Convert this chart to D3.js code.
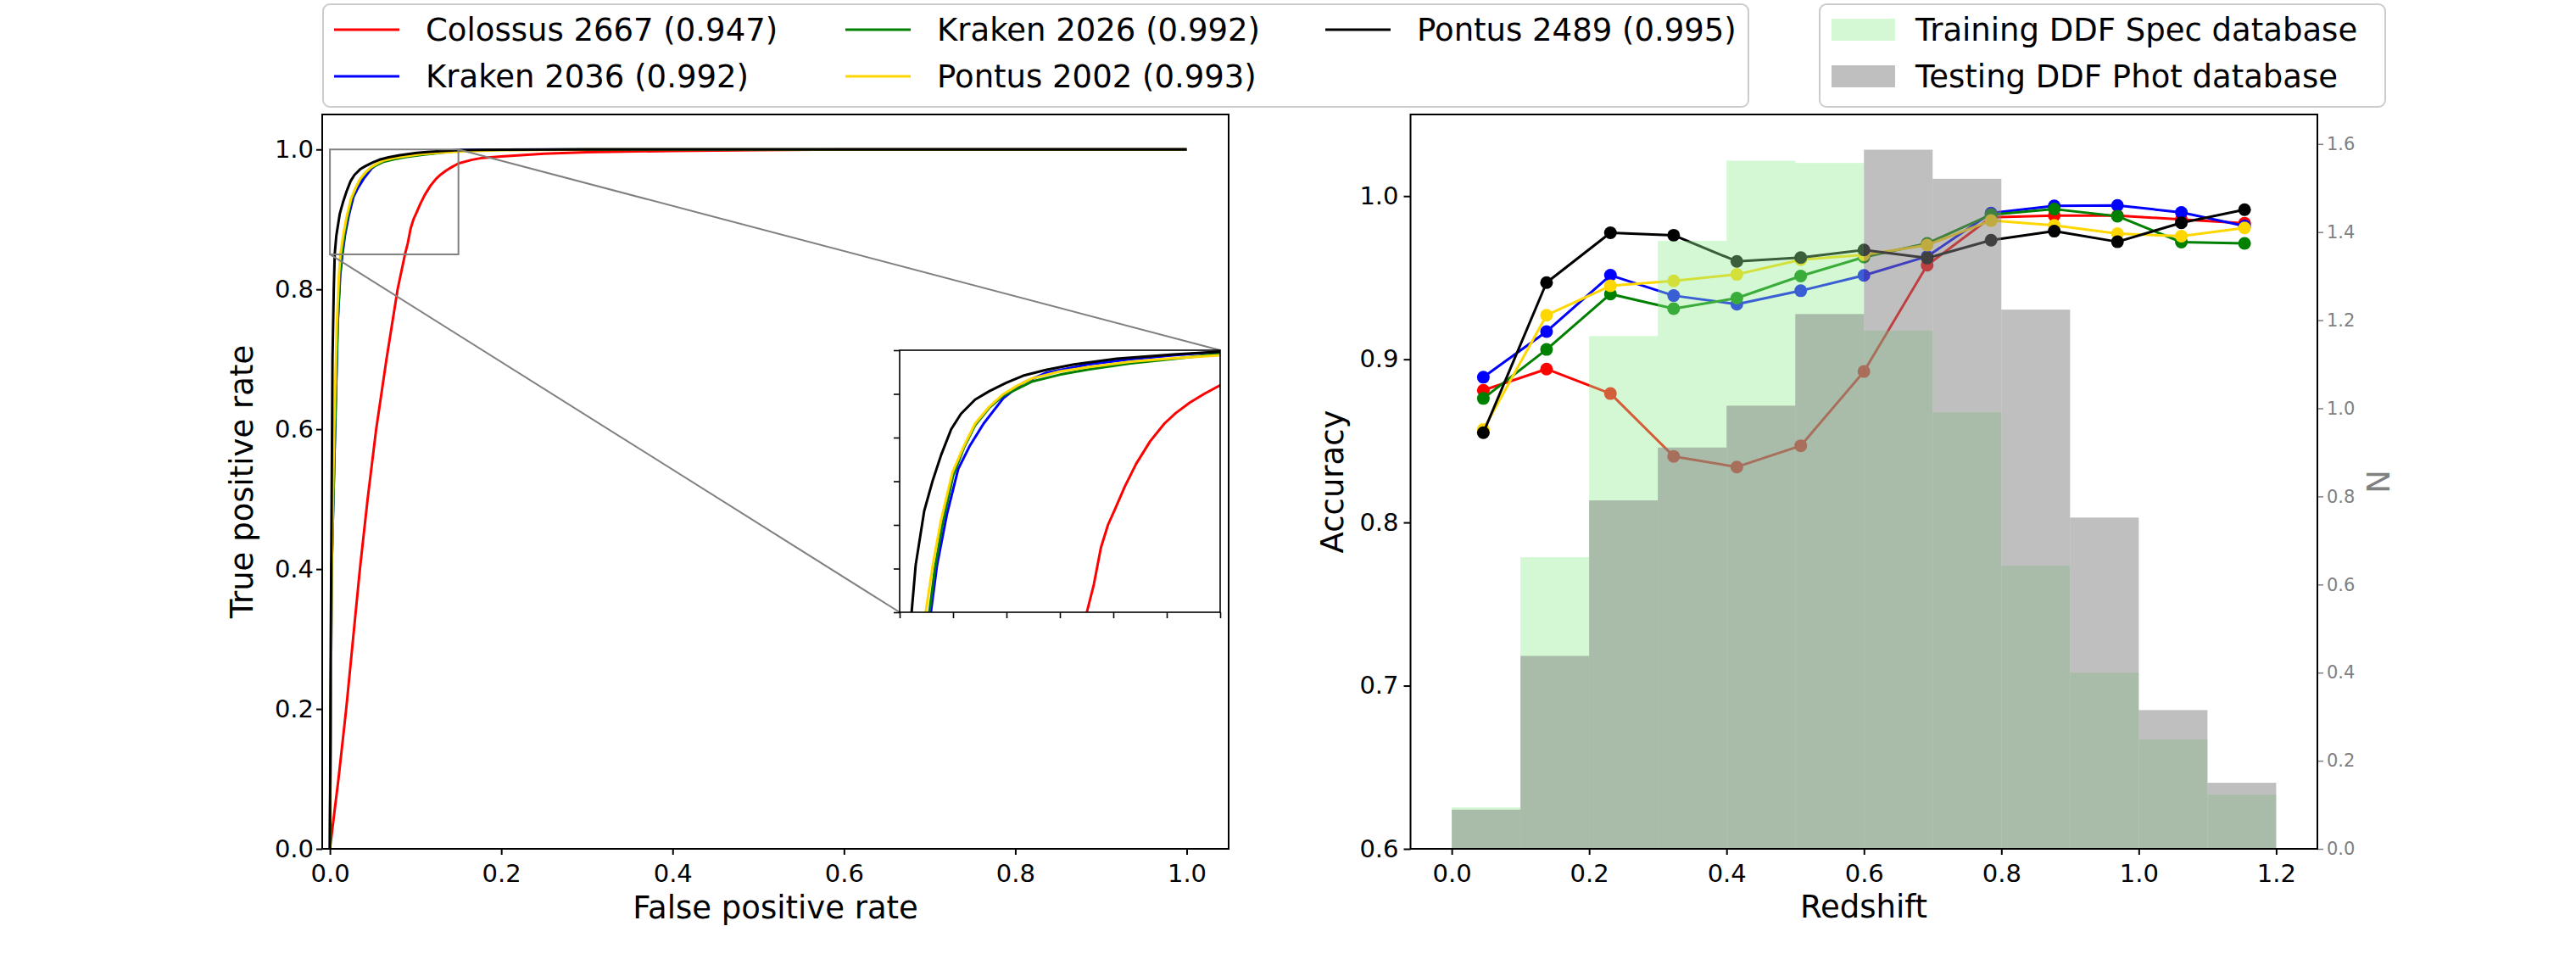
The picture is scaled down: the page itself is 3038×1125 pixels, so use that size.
<!DOCTYPE html>
<html><head><meta charset="utf-8">
<script src="https://cdn.jsdelivr.net/npm/d3@7"></script>
<style>
html,body{margin:0;padding:0;background:#fff;}
svg text{font-family:"DejaVu Sans",sans-serif;}
</style></head>
<body>
<svg id="chart" width="3038" height="1125"></svg>
<script>
// ---------- DATA ----------
const seriesNames = ["Colossus 2667 (0.947)","Kraken 2036 (0.992)","Kraken 2026 (0.992)","Pontus 2002 (0.993)","Pontus 2489 (0.995)"];
const seriesColors = ["#ff0000","#0000ff","#008000","#ffd700","#000000"];

// ROC curves: [false positive rate, true positive rate]
const rocColossus = [[0,0],[0.005,0.05],[0.010,0.1],[0.019,0.2],[0.027,0.3],[0.035,0.4],[0.044,0.5],[0.054,0.6],[0.066,0.7],[0.079,0.8],[0.0876,0.85],[0.0909,0.866],[0.0942,0.887],[0.0975,0.900],[0.1008,0.909],[0.1054,0.922],[0.1107,0.935],[0.1173,0.948],[0.1239,0.958],[0.1292,0.964],[0.1358,0.970],[0.1425,0.975],[0.15,0.980],[0.165,0.985],[0.178,0.988],[0.2,0.990],[0.25,0.994],[0.3,0.996],[0.4,0.998],[0.5,0.999],[0.6,1.0],[1.0,1.0]];
const rocKraken2036 = [[0,0],[0.002,0.4],[0.006,0.6],[0.009,0.75],[0.012,0.82],[0.0146,0.85],[0.0175,0.877],[0.0221,0.906],[0.0274,0.932],[0.0327,0.945],[0.0393,0.958],[0.0485,0.9725],[0.0578,0.9814],[0.0684,0.987],[0.0882,0.9919],[0.108,0.9948],[0.1279,0.9971],[0.15,0.9992],[0.2,0.9998],[0.3,1.0],[1.0,1.0]];
const rocKraken2026 = [[0,0],[0.002,0.4],[0.006,0.6],[0.009,0.75],[0.0115,0.82],[0.0139,0.85],[0.0165,0.875],[0.0200,0.90],[0.0250,0.928],[0.0300,0.944],[0.0353,0.957],[0.0419,0.967],[0.0485,0.974],[0.0552,0.978],[0.0618,0.982],[0.075,0.986],[0.0882,0.989],[0.108,0.9925],[0.128,0.995],[0.15,0.998],[0.2,0.9995],[0.3,1.0],[1.0,1.0]];
const rocPontus2002 = [[0,0],[0.002,0.4],[0.005,0.6],[0.008,0.75],[0.0105,0.82],[0.0122,0.85],[0.0155,0.877],[0.0194,0.903],[0.0247,0.930],[0.0300,0.945],[0.0353,0.958],[0.0419,0.9676],[0.0485,0.9749],[0.0552,0.9798],[0.0618,0.9838],[0.075,0.9879],[0.0882,0.9903],[0.1081,0.9935],[0.1279,0.9954],[0.15,0.9971],[0.2,0.9992],[0.3,1.0],[1.0,1.0]];
const rocPontus2489 = [[0,0],[0.001,0.3],[0.002,0.5],[0.003,0.7],[0.0045,0.8],[0.0056,0.85],[0.0075,0.877],[0.0115,0.908],[0.0155,0.9255],[0.0194,0.940],[0.0241,0.9547],[0.0287,0.9636],[0.0353,0.9717],[0.0419,0.9765],[0.0499,0.9814],[0.0578,0.9854],[0.0684,0.9887],[0.0816,0.9919],[0.1015,0.9951],[0.1279,0.9976],[0.15,0.9992],[0.2,0.9998],[0.3,1.0],[1.0,1.0]];
const rocCurves = [rocColossus, rocKraken2036, rocKraken2026, rocPontus2002, rocPontus2489];

// Accuracy vs redshift
const redshiftCenters = [0.046,0.138,0.231,0.323,0.415,0.508,0.600,0.692,0.785,0.877,0.969,1.062,1.154];
const accColossus   = [0.881,0.894,0.879,0.8405,0.834,0.847,0.8925,0.9576,0.987,0.988,0.988,0.9857,0.9834];
const accKraken2036 = [0.889,0.917,0.9515,0.939,0.9337,0.942,0.9514,0.963,0.9896,0.994,0.9943,0.990,0.9817];
const accKraken2026 = [0.876,0.906,0.940,0.931,0.9375,0.951,0.9626,0.971,0.9886,0.992,0.9877,0.9718,0.971];
const accPontus2002 = [0.857,0.927,0.945,0.948,0.952,0.961,0.964,0.970,0.985,0.982,0.977,0.9754,0.9805];
const accPontus2489 = [0.855,0.947,0.9775,0.976,0.960,0.9623,0.967,0.962,0.973,0.9785,0.972,0.9836,0.9917];
const accSeries = [accColossus, accKraken2036, accKraken2026, accPontus2002, accPontus2489];

// Histograms (density)
const histEdges = [0.0,0.1,0.2,0.3,0.4,0.5,0.6,0.7,0.8,0.9,1.0,1.1,1.2];
const histTraining = [0.094,0.662,1.164,1.380,1.562,1.557,1.176,0.991,0.643,0.400,0.248,0.123];
const histTesting  = [0.089,0.438,0.791,0.911,1.006,1.214,1.587,1.521,1.224,0.752,0.315,0.150];
const histNames = ["Training DDF Spec database","Testing DDF Phot database"];

const rocXTicks = [0,0.2,0.4,0.6,0.8,1.0];
const rocYTicks = [0,0.2,0.4,0.6,0.8,1.0];
const insetTicks = [0.85,0.875,0.9,0.925,0.95,0.975,1.0];
const insetXTicks = [0,0.025,0.05,0.075,0.1,0.125,0.15];
const zXTicks = [0,0.2,0.4,0.6,0.8,1.0,1.2];
const accYTicks = [0.6,0.7,0.8,0.9,1.0];
const nTicks = [0,0.2,0.4,0.6,0.8,1.0,1.2,1.4,1.6];

// ---------- DRAW ----------
const svg = d3.select("#chart");
const fmt1 = d3.format(".1f");

// Left axes
const xL = d3.scaleLinear().domain([-0.009,1.049]).range([380,1449]);
const yL = d3.scaleLinear().domain([0,1.05]).range([1001,135]);
const line = (xs, ys) => d3.line().x(d=>xs(d[0])).y(d=>ys(d[1]));

svg.append("clipPath").attr("id","clipL").append("rect")
  .attr("x",380).attr("y",135).attr("width",1069).attr("height",866);
const gL = svg.append("g").attr("clip-path","url(#clipL)");
rocCurves.forEach((c,i)=>{
  gL.append("path").attr("d", line(xL,yL)(c)).attr("fill","none")
    .attr("stroke",seriesColors[i]).attr("stroke-width",3).attr("stroke-linejoin","round");
});

// zoom rectangle + connectors
const xI = d3.scaleLinear().domain([0,0.15]).range([1061,1439]);
const yI = d3.scaleLinear().domain([0.85,1.0]).range([722,413]);
svg.append("rect").attr("x",xL(0)).attr("y",yL(1.0)).attr("width",xL(0.15)-xL(0)).attr("height",yL(0.85)-yL(1.0))
  .attr("fill","none").attr("stroke","#808080").attr("stroke-width",2);
svg.append("line").attr("x1",xL(0.15)).attr("y1",yL(1.0)).attr("x2",xI(0.15)).attr("y2",yI(1.0))
  .attr("stroke","#808080").attr("stroke-width",2);
svg.append("line").attr("x1",xL(0)).attr("y1",yL(0.85)).attr("x2",xI(0)).attr("y2",yI(0.85))
  .attr("stroke","#808080").attr("stroke-width",2);

// inset
svg.append("rect").attr("x",1061).attr("y",413).attr("width",378).attr("height",309).attr("fill","#fff");
svg.append("clipPath").attr("id","clipI").append("rect")
  .attr("x",1061).attr("y",413).attr("width",378).attr("height",309);
const gI = svg.append("g").attr("clip-path","url(#clipI)");
rocCurves.forEach((c,i)=>{
  gI.append("path").attr("d", line(xI,yI)(c)).attr("fill","none")
    .attr("stroke",seriesColors[i]).attr("stroke-width",3).attr("stroke-linejoin","round");
});
const axIX = svg.append("g").attr("transform","translate(0,722)")
  .call(d3.axisBottom(xI).tickValues(insetXTicks).tickSize(7).tickFormat(""));
const axIY = svg.append("g").attr("transform","translate(1061,0)")
  .call(d3.axisLeft(yI).tickValues(insetTicks).tickSize(7).tickFormat(""));
[axIX,axIY].forEach(a=>{a.select(".domain").remove(); a.selectAll("line").attr("stroke","#000").attr("stroke-width",1.6);});
svg.append("rect").attr("x",1061).attr("y",413).attr("width",378).attr("height",309)
  .attr("fill","none").attr("stroke","#000").attr("stroke-width",1.6);

// left axes ticks
function styleAxis(g, size, color){
  g.select(".domain").remove();
  g.selectAll("line").attr("stroke",color).attr("stroke-width",2);
  g.selectAll("text").attr("fill",color).style("font-size",size+"px").style("font-family","DejaVu Sans");
}
const axLX = svg.append("g").attr("transform","translate(0,1001)")
  .call(d3.axisBottom(xL).tickValues(rocXTicks).tickSize(7).tickPadding(11).tickFormat(fmt1));
styleAxis(axLX,29,"#000");
const axLY = svg.append("g").attr("transform","translate(380,0)")
  .call(d3.axisLeft(yL).tickValues(rocYTicks).tickSize(7).tickPadding(3).tickFormat(fmt1));
styleAxis(axLY,29,"#000");
svg.append("rect").attr("x",380).attr("y",135).attr("width",1069).attr("height",866)
  .attr("fill","none").attr("stroke","#000").attr("stroke-width",2);

svg.append("text").attr("x",914.5).attr("y",1083).attr("text-anchor","middle")
  .style("font-size","37px").text("False positive rate");
svg.append("text").attr("transform","translate(298,568) rotate(-90)").attr("text-anchor","middle")
  .style("font-size","37px").text("True positive rate");

// Right axes
const xR = d3.scaleLinear().domain([-0.06,1.26]).range([1663.5,2733]);
const yR = d3.scaleLinear().domain([0.6,1.05]).range([1001,135]);
const yN = d3.scaleLinear().domain([0,1.667]).range([1001,135]);

svg.append("clipPath").attr("id","clipR").append("rect")
  .attr("x",1663.5).attr("y",135).attr("width",1069.5).attr("height",866);
const gR = svg.append("g").attr("clip-path","url(#clipR)");
accSeries.forEach((s,i)=>{
  const pts = s.map((v,k)=>[redshiftCenters[k],v]);
  gR.append("path").attr("d", line(xR,yR)(pts)).attr("fill","none")
    .attr("stroke",seriesColors[i]).attr("stroke-width",3).attr("stroke-linejoin","round");
  gR.selectAll(null).data(pts).enter().append("circle")
    .attr("cx",d=>xR(d[0])).attr("cy",d=>yR(d[1])).attr("r",7.5).attr("fill",seriesColors[i]);
});
// histograms on twin axis (drawn over the lines)
const bins = histEdges.slice(0,-1).map((e,k)=>({x0:e,x1:histEdges[k+1]}));
gR.selectAll(null).data(bins).enter().append("rect")
  .attr("x",d=>xR(d.x0)).attr("width",d=>xR(d.x1)-xR(d.x0))
  .attr("y",(d,k)=>yN(histTraining[k])).attr("height",(d,k)=>yN(0)-yN(histTraining[k]))
  .attr("fill","#90ee90").attr("fill-opacity",0.4);
gR.selectAll(null).data(bins).enter().append("rect")
  .attr("x",d=>xR(d.x0)).attr("width",d=>xR(d.x1)-xR(d.x0))
  .attr("y",(d,k)=>yN(histTesting[k])).attr("height",(d,k)=>yN(0)-yN(histTesting[k]))
  .attr("fill","#808080").attr("fill-opacity",0.5);

const axRX = svg.append("g").attr("transform","translate(0,1001)")
  .call(d3.axisBottom(xR).tickValues(zXTicks).tickSize(7).tickPadding(11).tickFormat(fmt1));
styleAxis(axRX,29,"#000");
const axRY = svg.append("g").attr("transform","translate(1663.5,0)")
  .call(d3.axisLeft(yR).tickValues(accYTicks).tickSize(8).tickPadding(6).tickFormat(fmt1));
styleAxis(axRY,29,"#000");
const axN = svg.append("g").attr("transform","translate(2733,0)")
  .call(d3.axisRight(yN).tickValues(nTicks).tickSize(7).tickPadding(4).tickFormat(fmt1));
styleAxis(axN,21,"#808080");
axN.selectAll("line").attr("stroke-width",1.5);
svg.append("rect").attr("x",1663.5).attr("y",135).attr("width",1069.5).attr("height",866)
  .attr("fill","none").attr("stroke","#000").attr("stroke-width",2);

svg.append("text").attr("x",2198).attr("y",1082).attr("text-anchor","middle")
  .style("font-size","37px").text("Redshift");
svg.append("text").attr("transform","translate(1584,568) rotate(-90)").attr("text-anchor","middle")
  .style("font-size","37px").text("Accuracy");
svg.append("text").attr("transform","translate(2818,568) rotate(-90)").attr("text-anchor","middle")
  .attr("fill","#808080").style("font-size","37px").text("N");

// Legend 1 (line series), 3 columns filled column-wise
svg.append("rect").attr("x",381).attr("y",5).attr("width",1681).attr("height",121).attr("rx",8)
  .attr("fill","#fff").attr("stroke","#cccccc").attr("stroke-width",2);
const colX = [394,997,1563];
const rowY = [35,90];
seriesNames.forEach((n,i)=>{
  const c = Math.floor(i/2), r = i%2;
  const g = svg.append("g");
  g.append("line").attr("x1",colX[c]).attr("x2",colX[c]+77).attr("y1",rowY[r]).attr("y2",rowY[r])
    .attr("stroke",seriesColors[i]).attr("stroke-width",3);
  g.append("text").attr("x",colX[c]+108).attr("y",rowY[r]+13).style("font-size","37px").text(n);
});

// Legend 2 (histograms)
svg.append("rect").attr("x",2146).attr("y",5).attr("width",667).attr("height",121).attr("rx",8)
  .attr("fill","#fff").attr("stroke","#cccccc").attr("stroke-width",2);
const histFill = ["#90ee90","#808080"], histOp = [0.4,0.5];
histNames.forEach((n,i)=>{
  svg.append("rect").attr("x",2160).attr("y",rowY[i]-13).attr("width",75).attr("height",26)
    .attr("fill",histFill[i]).attr("fill-opacity",histOp[i]);
  svg.append("text").attr("x",2259).attr("y",rowY[i]+13).style("font-size","37px").text(n);
});
</script>
</body></html>
